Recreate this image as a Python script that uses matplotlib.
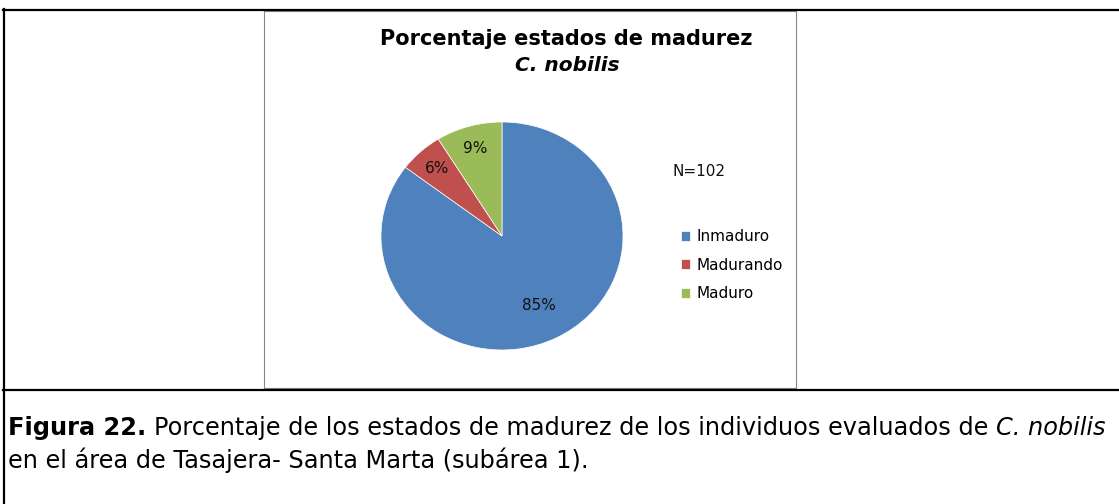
import matplotlib
matplotlib.use("Agg")
import matplotlib.pyplot as plt
from matplotlib.patches import Rectangle
from matplotlib.lines import Line2D
import numpy as np

# datos
estados = ["Inmaduro", "Madurando", "Maduro"]
individuos = [87, 6, 9]  # N = 102
colores = ["#4F81BD", "#C0504D", "#9BBB59"]
titulo = "Porcentaje estados de madurez"
especie = "C. nobilis"
texto_n = "N=102"
leyenda_1 = [("Figura 22.", dict(weight="bold")),
             ("Porcentaje de los estados de madurez de los individuos evaluados de", {}),
             ("C. nobilis", dict(style="italic"))]
leyenda_2 = "en el área de Tasajera- Santa Marta (subárea 1)."

plt.rcParams["font.family"] = ["DejaVu Sans"]

W, H = 1119, 504
fig = plt.figure(figsize=(W / 100, H / 100), dpi=100)
fig.patch.set_facecolor("white")


def fx(px):
    return px / W


def fy(py):
    return 1 - py / H


# marco de la tabla
fig.add_artist(Line2D([fx(3), fx(1119)], [fy(10), fy(10)], color="black", lw=1.6))
fig.add_artist(Line2D([fx(4), fx(4)], [fy(9), fy(504)], color="black", lw=1.6))
fig.add_artist(Line2D([fx(3), fx(1119)], [fy(390), fy(390)], color="black", lw=1.6))

# recuadro del grafico
fig.add_artist(Rectangle((fx(264), fy(388)), fx(796) - fx(264), fy(11) - fy(388),
                         transform=fig.transFigure, fill=False, ec="#868686", lw=0.8))

fig.text(fx(566), fy(45), titulo, ha="center", va="baseline", size=15, weight="bold")
fig.text(fx(567), fy(71), especie, ha="center", va="baseline", size=14.5, weight="bold", style="italic")

# pastel
ax = fig.add_axes([fx(381), fy(350), fx(623) - fx(381), fy(122) - fy(350)])
wedges, _ = ax.pie(individuos, colors=colores, startangle=90, counterclock=False, radius=1,
                   wedgeprops=dict(lw=0.5, ec="white"))
ax.set_aspect("auto")
ax.set_xlim(-1, 1)
ax.set_ylim(-1, 1)
ax.axis("off")

# etiquetas de porcentaje
total = sum(individuos)
dist = [0.68, 0.8, 0.8]
for w, n, d in zip(wedges, individuos, dist):
    ang = np.deg2rad((w.theta1 + w.theta2) / 2)
    ax.text(d * np.cos(ang), d * np.sin(ang), "%.0f%%" % (100 * n / total),
            ha="center", va="center", size=11, color="#111111")

fig.text(fx(672), fy(172), texto_n, ha="left", va="center", size=11, color="#111111")

fig.legend(wedges, estados, loc="upper left", bbox_to_anchor=(fx(681), fy(229)),
           frameon=False, fontsize=11, handlelength=0.62, handleheight=0.62,
           handletextpad=0.4, labelspacing=0.9, borderpad=0, borderaxespad=0)

# leyenda de la figura: trozos con estilos distintos, uno tras otro
tam = 17.3
fig.canvas.draw()
r = fig.canvas.get_renderer()
x = 8
hueco = 0.33 * tam * 100 / 72
for s, kw in leyenda_1:
    t = fig.text(fx(x), fy(435), s, ha="left", va="baseline", size=tam, **kw)
    x += t.get_window_extent(r).width + hueco
fig.text(fx(8), fy(468), leyenda_2, ha="left", va="baseline", size=tam)

fig.savefig("out.png", dpi=100)
